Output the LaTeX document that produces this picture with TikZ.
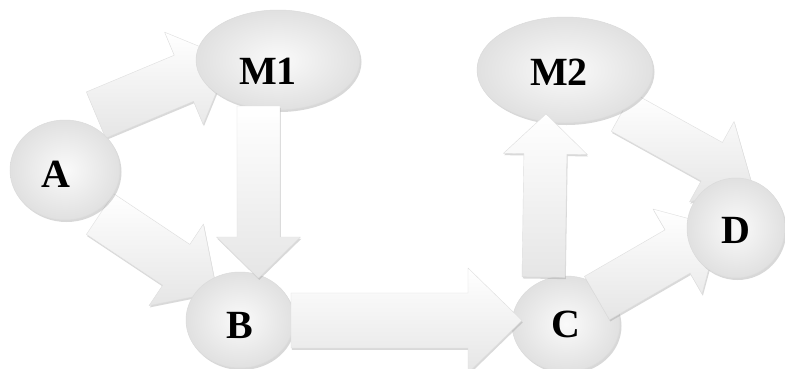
\documentclass[tikz,border=0pt]{standalone}
\usepackage{fontspec}
\setmainfont{Liberation Serif}
\usetikzlibrary{shapes.geometric,shadows,calc}

% Block arrow from a tail point to a tip point:
% #1 tail, #2 tip, #3 shaft half-width, #4 head half-width, #5 head length
\newcommand\blockarrow[5]{%
  \coordinate (ba-back) at ($(#2)!#5!(#1)$);
  \path[bigarrow]
    ($(#1)!#3!90:(#2)$) -- ($(ba-back)!#3!90:(#2)$) -- ($(ba-back)!#4!90:(#2)$)
    -- (#2)
    -- ($(ba-back)!#4!-90:(#2)$) -- ($(ba-back)!#3!-90:(#2)$) -- ($(#1)!#3!-90:(#2)$)
    -- cycle;}

\tikzset{
  state/.style={ellipse, inner sep=0pt, inner color=gray!4, outer color=gray!24,
    draw=gray!28, line width=0.5pt,
    drop shadow={shadow xshift=1.5pt, shadow yshift=-2pt, opacity=0.3, fill=gray}},
  statetext/.style={font=\bfseries\fontsize{40}{48}\selectfont, text=black},
  bigarrow/.style={top color=white, bottom color=gray!20, draw=gray!26, line width=0.4pt,
    line join=round,
    drop shadow={shadow xshift=0.8pt, shadow yshift=-1.8pt, opacity=0.35, fill=gray!85}},
}

\begin{document}
\begin{tikzpicture}[x=1pt, y=-1pt]
  \useasboundingbox (0,0) rectangle (785,368);
  \fill[white] (0,0) rectangle (785,368);

  % arrow ends
  \coordinate (am1-t) at (96,115);   \coordinate (am1-h) at (230,59);
  \coordinate (ab-t)  at (100,214);  \coordinate (ab-h)  at (217,292);
  \coordinate (m1b-t) at (258.5,106); \coordinate (m1b-h) at (258.5,278);
  \coordinate (bc-t)  at (291,320.5); \coordinate (bc-h)  at (522,320.5);
  \coordinate (cm2-t) at (543.5,277); \coordinate (cm2-h) at (546,114);
  \coordinate (cd-t)  at (597,298);  \coordinate (cd-h)  at (720,227);
  \coordinate (m2d-t) at (622,112);  \coordinate (m2d-h) at (752,184);

  % arrows lying under the states
  \blockarrow{am1-t}{am1-h}{25pt}{50pt}{50pt}
  \blockarrow{ab-t}{ab-h}{24.5pt}{49pt}{49pt}
  \blockarrow{m2d-t}{m2d-h}{22pt}{46pt}{46pt}

  % states
  \node[state, minimum width=110pt, minimum height=100pt,
        label={[statetext, xshift=-9pt, yshift=-4pt]center:A}] (A) at (65,170) {};
  \node[state, minimum width=164pt, minimum height=100pt,
        label={[statetext, xshift=-10pt, yshift=-11pt]center:M1}] (M1) at (278,60) {};
  \node[state, minimum width=108pt, minimum height=96pt,
        label={[statetext, yshift=-5pt]center:B}] (B) at (240,320) {};
  \node[state, minimum width=176pt, minimum height=106pt,
        label={[statetext, xshift=-6pt, yshift=-2pt]center:M2}] (M2) at (565,70) {};
  \node[state, minimum width=108pt, minimum height=96pt,
        label={[statetext]center:C}] (C) at (566,324) {};

  % arrows lying over the states
  \blockarrow{m1b-t}{m1b-h}{21.5pt}{42pt}{41pt}
  \blockarrow{bc-t}{bc-h}{27.5pt}{52.5pt}{54pt}
  \blockarrow{cm2-t}{cm2-h}{21.5pt}{42pt}{40pt}
  \blockarrow{cd-t}{cd-h}{25pt}{49pt}{49pt}

  \node[state, minimum width=98pt, minimum height=100pt,
        label={[statetext, yshift=-2pt]center:D}] (D) at (736,228) {};
\end{tikzpicture}
\end{document}
